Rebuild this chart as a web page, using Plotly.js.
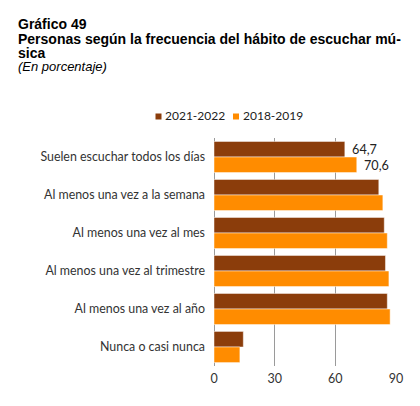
<!DOCTYPE html>
<html>
<head>
<meta charset="utf-8">
<script src="https://cdn.plot.ly/plotly-3.0.1.min.js"></script>
<style>
  html, body { margin: 0; padding: 0; background: #fff; }
  #chart { width: 420px; height: 406px; }
</style>
</head>
<body>
<div id="chart"></div>
<script>
// Frecuencia del hábito de escuchar música (%)
const categories = [
  "Suelen escuchar todos los días",
  "Al menos una vez a la semana",
  "Al menos una vez al mes",
  "Al menos una vez al trimestre",
  "Al menos una vez al año",
  "Nunca o casi nunca"
];
const values2021 = [64.7, 81.5, 84.2, 84.8, 85.7, 14.5];
const values2018 = [70.6, 83.5, 85.7, 86.5, 87.1, 12.8];
const seriesNames = ["2021-2022", "2018-2019"];
const seriesColors = ["#8B3D0B", "#FF8C00"];
const xTicks = [0, 30, 60, 90];
// only the first row carries value labels
const labelled = [true, false, false, false, false, false];

// decimal comma, with a small lead-in space before the number
const fmt = v => "\u2004" + v.toFixed(1).replace(".", ",");

// plot area in pixels, used to place the header and legend
const M = { l: 214, r: 24, t: 138, b: 40 };
const PW = 420 - M.l - M.r, PH = 406 - M.t - M.b;
const px = x => (x - M.l) / PW;
const py = y => 1 - (y - M.t) / PH;

function makeTrace(vals, name, color) {
  return {
    type: "bar",
    orientation: "h",
    y: categories,
    x: vals,
    name: name,
    showlegend: false,
    marker: { color: color, line: { color: "rgba(255,255,255,0.6)", width: 0.8 } },
    text: vals.map((v, i) => labelled[i] ? fmt(v) : ""),
    textposition: "outside",
    cliponaxis: false,
    textfont: { family: "Lato, 'Open Sans', sans-serif", size: 13, color: "#222" },
    hoverinfo: "x+y"
  };
}

const data = [
  makeTrace(values2021, seriesNames[0], seriesColors[0]),
  makeTrace(values2018, seriesNames[1], seriesColors[1])
];

const titleFont = "'Liberation Sans', Arial, sans-serif";

const header = [
  { text: "<b>Gráfico 49</b>", y: 24 },
  { text: "<b>Personas según la frecuencia del hábito de escuchar mú-</b>", y: 38.5 },
  { text: "<b>sica</b>", y: 52.5 },
  { text: "<i>(En porcentaje)</i>", y: 66.5, size: 13 }
].map(a => ({
  text: a.text,
  xref: "paper", yref: "paper",
  x: px(16), y: py(a.y),
  xanchor: "left", yanchor: "middle",
  showarrow: false,
  font: { family: titleFont, size: a.size || 14, color: "#000" }
}));

// legend: small square + label for each series
const legendX = [155.5, 233];
const legendY = 116.5;
const legendText = seriesNames.map((n, i) => ({
  text: n,
  xref: "paper", yref: "paper",
  x: px(legendX[i] + 7.5), y: py(legendY - 0.5),
  xanchor: "left", yanchor: "middle",
  showarrow: false,
  font: { family: "Lato, sans-serif", size: 12, color: "#222" }
}));
const legendShapes = seriesNames.map((n, i) => ({
  type: "rect",
  xref: "paper", yref: "paper",
  x0: px(legendX[i]), x1: px(legendX[i] + 6),
  y0: py(legendY - 3), y1: py(legendY + 3),
  fillcolor: seriesColors[i],
  line: { width: 0 }
}));

const layout = {
  width: 420,
  height: 406,
  margin: M,
  paper_bgcolor: "#fff",
  plot_bgcolor: "#fff",
  barmode: "group",
  bargap: 0.18,
  bargroupgap: 0.0,
  showlegend: false,
  font: { family: "Lato, 'Open Sans', sans-serif", color: "#333" },
  xaxis: {
    range: [0, 90],
    tickvals: xTicks,
    ticktext: xTicks.map(String),
    showgrid: true,
    gridcolor: "#9a9a9a",
    gridwidth: 1,
    zeroline: true,
    zerolinecolor: "#9a9a9a",
    zerolinewidth: 1,
    ticklabelstandoff: 3,
    tickfont: { size: 12.5, color: "#333" },
    fixedrange: true
  },
  yaxis: {
    autorange: "reversed",
    showline: false,
    ticks: "",
    ticklabelstandoff: 8,
    tickfont: { size: 12.4, color: "#333" },
    fixedrange: true
  },
  shapes: legendShapes,
  annotations: header.concat(legendText)
};

Plotly.newPlot("chart", data, layout, { displayModeBar: false, staticPlot: true });
</script>
</body>
</html>
